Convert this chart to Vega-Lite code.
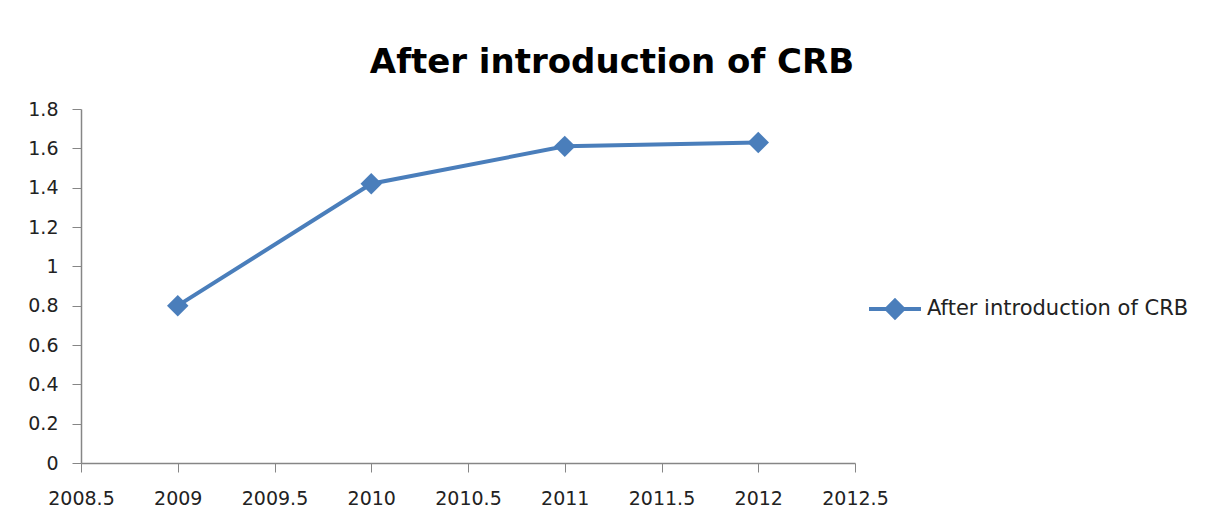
{
  "$schema": "https://vega.github.io/schema/vega-lite/v6.json",
  "autosize": "none",
  "width": 774,
  "height": 354,
  "padding": {"left": 81, "top": 109, "right": 352, "bottom": 55},
  "background": "white",
  "title": {
    "text": "After introduction of CRB",
    "font": "DejaVu Sans",
    "fontSize": 34,
    "fontWeight": "bold",
    "color": "#000000",
    "anchor": "middle",
    "dx": 144,
    "offset": 20
  },
  "data": {
    "values": [
      {"year": 2009, "eps": 0.80, "series": "After introduction of CRB"},
      {"year": 2010, "eps": 1.42, "series": "After introduction of CRB"},
      {"year": 2011, "eps": 1.61, "series": "After introduction of CRB"},
      {"year": 2012, "eps": 1.63, "series": "After introduction of CRB"}
    ]
  },
  "encoding": {
    "x": {
      "field": "year",
      "type": "quantitative",
      "scale": {"domain": [2008.5, 2012.5], "nice": false, "zero": false},
      "axis": {
        "title": null,
        "values": [2008.5, 2009, 2009.5, 2010, 2010.5, 2011, 2011.5, 2012, 2012.5],
        "format": "",
        "grid": false,
        "domainColor": "#868686",
        "tickColor": "#868686",
        "domainWidth": 1.5,
        "tickSize": 9,
        "labelFont": "DejaVu Sans",
        "labelFontSize": 19,
        "labelColor": "#222222",
        "labelPadding": 17,
        "labelFlush": false,
        "labelOverlap": false
      }
    },
    "y": {
      "field": "eps",
      "type": "quantitative",
      "scale": {"domain": [0, 1.8], "nice": false},
      "axis": {
        "title": null,
        "values": [0, 0.2, 0.4, 0.6, 0.8, 1, 1.2, 1.4, 1.6, 1.8],
        "format": "",
        "grid": false,
        "domainColor": "#868686",
        "tickColor": "#868686",
        "domainWidth": 1.5,
        "tickSize": 9,
        "labelFont": "DejaVu Sans",
        "labelFontSize": 19,
        "labelColor": "#222222",
        "labelPadding": 14,
        "labelOverlap": false
      }
    },
    "color": {
      "field": "series",
      "type": "nominal",
      "scale": {"range": ["#4A7EBB"]},
      "legend": {
        "title": null,
        "orient": "none",
        "legendX": 786,
        "legendY": 172,
        "symbolType": "M-1,0L1,0M0,-0.32L0.32,0L0,0.32L-0.32,0Z",
        "symbolSize": 2700,
        "symbolStrokeWidth": 4,
        "symbolFillColor": "#4A7EBB",
        "symbolStrokeColor": "#4A7EBB",
        "labelFont": "DejaVu Sans",
        "labelFontSize": 21,
        "labelColor": "#222222",
        "labelOffset": 4,
        "labelLimit": 400
      }
    }
  },
  "layer": [
    {"mark": {"type": "line", "strokeWidth": 4}},
    {"mark": {"type": "point", "shape": "diamond", "filled": true, "size": 460, "opacity": 1}}
  ],
  "config": {"view": {"stroke": null}}
}
